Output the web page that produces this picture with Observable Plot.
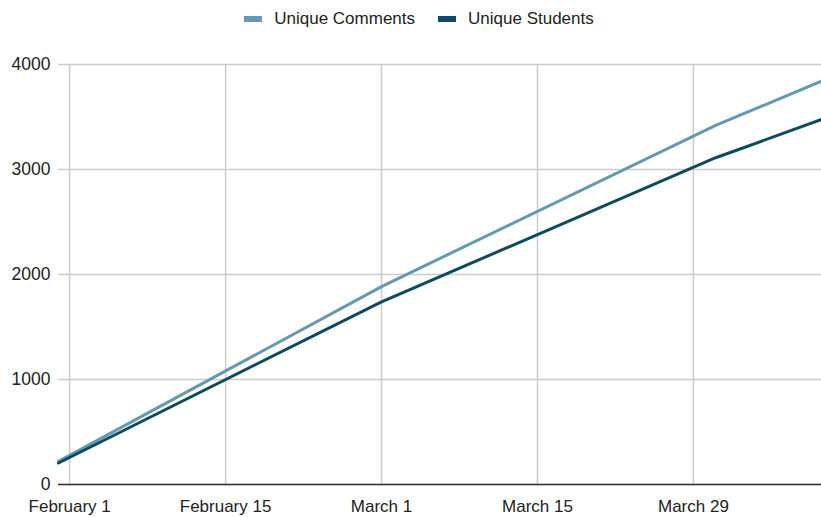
<!DOCTYPE html>
<html>
<head>
<meta charset="utf-8">
<script src="https://cdn.jsdelivr.net/npm/d3@7"></script>
<script src="https://cdn.jsdelivr.net/npm/@observablehq/plot@0.6"></script>
<style>
  html, body { margin: 0; padding: 0; background: #fff; }
  body { width: 821px; font-family: "Liberation Sans", Arial, sans-serif; }
  #legend { height: 38px; display: flex; justify-content: center; align-items: center; gap: 23px; font-size: 17px; color: #222; padding-left: 17px; box-sizing: border-box; }
  #legend .item { display: flex; align-items: center; }
  #legend .sw { width: 18px; height: 6px; margin-right: 12px; }
</style>
</head>
<body>
<div id="legend"></div>
<div id="chart"></div>
<script>
const seriesNames = ["Unique Comments", "Unique Students"];
const seriesColors = ["#6399b1", "#0d4a61"];
const dates = ["2023-01-31", "2023-03-01", "2023-03-31", "2023-04-09T12:00"];
const commentsValues = [220, 1885, 3420, 3841];
const studentsValues = [205, 1740, 3112, 3476];
const tickDates = ["2023-02-01", "2023-02-15", "2023-03-01", "2023-03-15", "2023-03-29"];
const tickLabels = ["February 1", "February 15", "March 1", "March 15", "March 29"];
const yTicks = [0, 1000, 2000, 3000, 4000];

const parse = s => new Date(s.length > 10 ? s : s + "T00:00");
const data = [];
dates.forEach((d, i) => {
  data.push({date: parse(d), value: commentsValues[i], series: seriesNames[0]});
  data.push({date: parse(d), value: studentsValues[i], series: seriesNames[1]});
});
const ticks = tickDates.map(parse);
const labelOf = new Map(ticks.map((t, i) => [+t, tickLabels[i]]));

const legend = document.getElementById("legend");
seriesNames.forEach((n, i) => {
  const it = document.createElement("div");
  it.className = "item";
  it.innerHTML = `<span class="sw" style="background:${seriesColors[i]}"></span><span>${n}</span>`;
  legend.appendChild(it);
});

const chart = Plot.plot({
  width: 821,
  height: 479,
  marginTop: 26,
  marginBottom: 33,
  marginLeft: 58,
  marginRight: 0,
  style: {fontFamily: "'Liberation Sans', Arial, sans-serif", fontSize: "17px", color: "#222", background: "#fff"},
  x: {type: "time", domain: [parse(dates[0]), parse(dates[dates.length - 1])]},
  y: {domain: [0, 4000]},
  color: {domain: seriesNames, range: seriesColors},
  marks: [
    Plot.gridY(yTicks, {stroke: "#cccccc", strokeOpacity: 1, strokeWidth: 1.5}),
    Plot.gridX(ticks, {stroke: "#cccccc", strokeOpacity: 1, strokeWidth: 1.5}),
    Plot.axisY(yTicks, {tickSize: 0, tickPadding: 8, fontSize: 17.5, label: null, tickFormat: d => String(d)}),
    Plot.axisX(ticks, {tickSize: 0, tickPadding: 15, fontSize: 17, label: null, tickFormat: d => labelOf.get(+d)}),
    Plot.ruleY([0], {stroke: "#333333", strokeWidth: 1.5}),
    Plot.line(data, {x: "date", y: "value", z: "series", stroke: "series", strokeWidth: 3, curve: "linear"})
  ]
});
document.getElementById("chart").appendChild(chart);
</script>
</body>
</html>
